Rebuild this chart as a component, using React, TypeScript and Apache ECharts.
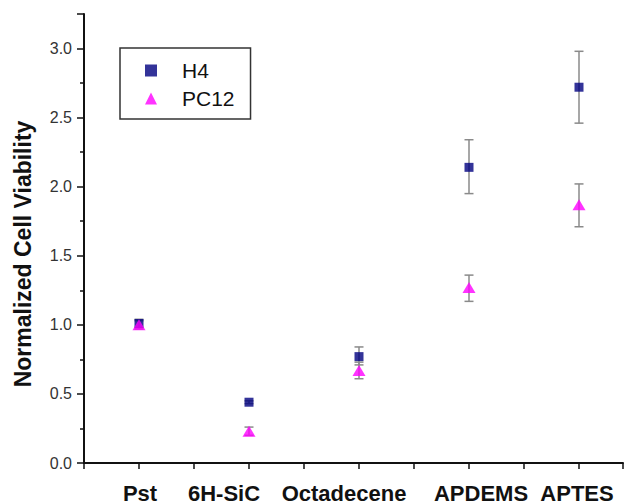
import React, { useEffect, useRef } from "react";
import * as echarts from "echarts";

const categories = ["Pst", "6H-SiC", "Octadecene", "APDEMS", "APTES"];
const h4Values = [1.01, 0.44, 0.77, 2.14, 2.72];
const h4Low = [0.98, 0.43, 0.71, 1.95, 2.46];
const h4High = [1.04, 0.45, 0.84, 2.34, 2.98];
const pc12Values = [1.0, 0.23, 0.67, 1.27, 1.87];
const pc12Low = [0.97, 0.2, 0.61, 1.17, 1.71];
const pc12High = [1.03, 0.26, 0.73, 1.36, 2.02];

const FONT = "'Liberation Sans', Arial, sans-serif";

export default function App() {
  const ref = useRef<HTMLDivElement>(null);
  useEffect(() => {
    if (!ref.current) return;
    const chart = echarts.init(ref.current, undefined, { renderer: "svg" });
    const errData = (low: number[], high: number[]) =>
      categories.map((_, i) => [i + 1, low[i], high[i]]);
    const errSeries = (name: string, low: number[], high: number[]) => ({
      type: "custom",
      name: name + " err",
      z: 1,
      renderItem: (params: any, api: any) => {
        const x = api.value(0);
        const lo = api.coord([x, api.value(1)]);
        const hi = api.coord([x, api.value(2)]);
        const hw = 4.5;
        const style = { stroke: "#8a8a8a", lineWidth: 1.5 };
        return {
          type: "group",
          children: [
            { type: "line", shape: { x1: lo[0], y1: lo[1], x2: hi[0], y2: hi[1] }, style },
            { type: "line", shape: { x1: lo[0] - hw, y1: lo[1], x2: lo[0] + hw, y2: lo[1] }, style },
            { type: "line", shape: { x1: hi[0] - hw, y1: hi[1], x2: hi[0] + hw, y2: hi[1] }, style },
          ],
        };
      },
      data: errData(low, high),
      silent: true,
    });
    const labelFont = {
      fontFamily: FONT,
      fontSize: 22,
      fontWeight: "bold" as const,
      color: "#111",
      lineHeight: 18,
    };
    chart.setOption({
      animation: false,
      backgroundColor: "#ffffff",
      grid: { left: 84, top: 14, bottom: 41, right: 2, containLabel: false, outerBoundsMode: "none" },
      legend: {
        left: 120,
        top: 48,
        orient: "vertical",
        data: [
          { name: "H4", icon: "rect" },
          { name: "PC12", icon: "triangle" },
        ],
        itemWidth: 12,
        itemHeight: 12,
        itemGap: 7,
        padding: [12, 16, 10, 25],
        borderColor: "#333",
        borderWidth: 1.5,
        borderRadius: 0,
        textStyle: {
          fontFamily: FONT,
          fontSize: 21,
          color: "#111",
          padding: [0, 0, 0, 20],
        },
      },
      xAxis: {
        type: "value",
        min: 0.5,
        max: 5.4,
        interval: 0.5,
        splitLine: { show: false },
        axisLine: { show: true, onZero: false, lineStyle: { color: "#111", width: 2 } },
        axisTick: { show: true, inside: false, length: 6, lineStyle: { color: "#111", width: 1.5 } },
        axisLabel: {
          margin: 21,
          ...labelFont,
          formatter: (v: number) => {
            const r = Math.round(v);
            if (Math.abs(v - r) < 1e-6 && r >= 1 && r <= categories.length)
              return "{c" + r + "|" + categories[r - 1] + "}";
            return "";
          },
          rich: {
            c1: { ...labelFont, padding: [0, 0, 0, 2] },
            c2: { ...labelFont, padding: [0, 50, 0, 0] },
            c3: { ...labelFont, padding: [0, 30, 0, 0] },
            c4: { ...labelFont, padding: [0, 0, 0, 24] },
            c5: { ...labelFont, padding: [0, 4, 0, 0] },
          },
        },
      },
      yAxis: {
        type: "value",
        min: 0,
        max: 3.25,
        interval: 0.5,
        splitLine: { show: false },
        axisLine: { show: true, onZero: false, lineStyle: { color: "#111", width: 2 } },
        axisTick: { show: true, length: 7, lineStyle: { color: "#111", width: 1.5 } },
        minorTick: { show: true, splitNumber: 2, length: 4, lineStyle: { color: "#111", width: 1.5 } },
        axisLabel: {
          margin: 12,
          fontFamily: FONT,
          fontSize: 16,
          color: "#333",
          formatter: (v: number) => (v > 3.01 ? "" : v.toFixed(1)),
        },
      },
      graphic: [
        {
          type: "text",
          x: 23,
          y: 254,
          rotation: Math.PI / 2,
          style: {
            text: "Normalized Cell Viability",
            fontFamily: FONT,
            fontSize: 23,
            fontWeight: "bold",
            fill: "#111",
            align: "center",
            verticalAlign: "middle",
          },
        },
      ],
      series: [
        errSeries("H4", h4Low, h4High),
        errSeries("PC12", pc12Low, pc12High),
        {
          type: "scatter",
          name: "H4",
          z: 3,
          symbol: "rect",
          symbolSize: 9,
          itemStyle: { color: "#000080" },
          data: h4Values.map((v, i) => [i + 1, v]),
        },
        {
          type: "scatter",
          name: "PC12",
          z: 4,
          symbol: "triangle",
          symbolSize: [13, 11],
          itemStyle: { color: "#ff00ff" },
          data: pc12Values.map((v, i) => [i + 1, v]),
        },
      ],
    });
    return () => chart.dispose();
  }, []);
  return <div ref={ref} style={{ width: 625, height: 504, position: "absolute", left: 0, top: 0 }} />;
}
